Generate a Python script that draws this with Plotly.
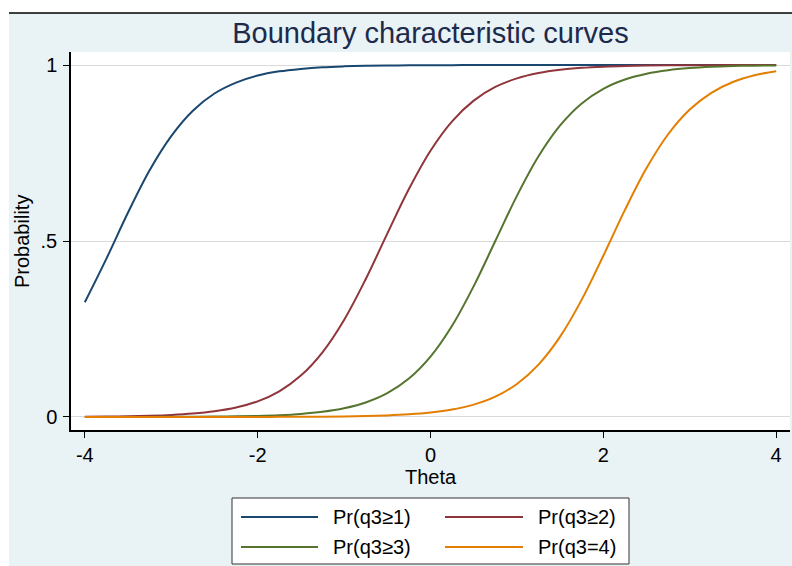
import plotly.graph_objects as go

# ---- data ----
theta = [-4.0, -3.75, -3.5, -3.25, -3.0, -2.75, -2.5, -2.25, -2.0, -1.75, -1.5, -1.25,
         -1.0, -0.75, -0.5, -0.25, 0.0, 0.25, 0.5, 0.75, 1.0, 1.25, 1.5, 1.75,
         2.0, 2.25, 2.5, 2.75, 3.0, 3.25, 3.5, 3.75, 4.0]

pr_ge1 = [0.326, 0.450, 0.581, 0.701, 0.798, 0.870, 0.919, 0.950, 0.970, 0.982, 0.989, 0.9936,
          0.9962, 0.9978, 0.9987, 0.9992, 0.9995, 0.9997, 0.9998, 0.9999, 0.9999, 1.0, 1.0, 1.0,
          1.0, 1.0, 1.0, 1.0, 1.0, 1.0, 1.0, 1.0, 1.0]

pr_ge2 = [0.0007, 0.0012, 0.0020, 0.0034, 0.0057, 0.0096, 0.0161, 0.0268, 0.0445, 0.0730, 0.1176, 0.1838,
          0.2757, 0.3915, 0.5210, 0.6477, 0.7566, 0.8401, 0.8988, 0.9376, 0.9621, 0.9772, 0.9864, 0.9919,
          0.9952, 0.9972, 0.9983, 0.9990, 0.9994, 0.9997, 0.9998, 0.9999, 0.9999]

pr_ge3 = [0.00005, 0.00008, 0.00013, 0.00023, 0.00038, 0.00064, 0.00108, 0.00183, 0.0031, 0.0052, 0.0088, 0.0148,
          0.0247, 0.0411, 0.0675, 0.1091, 0.1715, 0.2592, 0.3717, 0.5000, 0.6283, 0.7408, 0.8285, 0.8909,
          0.9325, 0.9589, 0.9753, 0.9852, 0.9912, 0.9948, 0.9969, 0.9982, 0.9989]

pr_eq4 = [0.000003, 0.000005, 0.000008, 0.000014, 0.000023, 0.000039, 0.000067, 0.000112, 0.00019, 0.00032, 0.00054, 0.00092,
          0.00155, 0.00262, 0.00442, 0.00745, 0.0125, 0.0210, 0.0350, 0.0577, 0.0938, 0.1489, 0.2283, 0.3334,
          0.4581, 0.5883, 0.7072, 0.8033, 0.8735, 0.9211, 0.9517, 0.9709, 0.9826]

series_names = ["Pr(q3≥1)", "Pr(q3≥2)", "Pr(q3≥3)", "Pr(q3=4)"]
series_values = [pr_ge1, pr_ge2, pr_ge3, pr_eq4]
series_colors = ["#1a476f", "#90353b", "#55752f", "#e37e00"]

x_ticks = [-4, -2, 0, 2, 4]
x_ticktext = ["-4", "-2", "0", "2", "4"]
y_ticks = [0, 0.5, 1]
y_ticktext = ["0", ".5", "1"]

title_text = "Boundary characteristic curves"
x_title = "Theta"
y_title = "Probability"

# ---- figure ----
W, H = 792, 566
ML, MR, MT, MB = 71, 2, 52, 136
PW, PH = W - ML - MR, H - MT - MB
FONT = "Liberation Sans, Arial, sans-serif"


def px(xp):
    return (xp - ML) / PW


def py(yp):
    return (H - MB - yp) / PH


fig = go.Figure()
for name, vals, col in zip(series_names, series_values, series_colors):
    fig.add_trace(go.Scatter(x=theta, y=vals, mode="lines", name=name,
                             line=dict(color=col, width=2, shape="spline", smoothing=1.0),
                             showlegend=False))

shapes = []
annotations = []
# white strips + black top rule (screenshot frame)
shapes.append(dict(type="rect", xref="paper", yref="paper", x0=px(0), x1=px(9), y0=py(H), y1=py(0),
                   fillcolor="white", line=dict(width=0), layer="above"))
shapes.append(dict(type="rect", xref="paper", yref="paper", x0=px(0), x1=px(W), y0=py(13), y1=py(0),
                   fillcolor="white", line=dict(width=0), layer="above"))
shapes.append(dict(type="line", xref="paper", yref="paper", x0=px(9), x1=px(W), y0=py(13), y1=py(13),
                   line=dict(color="black", width=1.5), layer="above"))

# manual legend (2 x 2)
lx0, lx1, ly0, ly1 = 232, 629, 498, 564
shapes.append(dict(type="rect", xref="paper", yref="paper", x0=px(lx0), x1=px(lx1), y0=py(ly1), y1=py(ly0),
                   fillcolor="white", line=dict(color="#333333", width=1), layer="above"))
pos = [(241, 318, 331, 517), (445, 523, 536, 517), (241, 318, 331, 547), (445, 523, 536, 547)]
for (a, b, t, yy), name, col in zip(pos, series_names, series_colors):
    shapes.append(dict(type="line", xref="paper", yref="paper", x0=px(a), x1=px(b), y0=py(yy), y1=py(yy),
                       line=dict(color=col, width=2), layer="above"))
    annotations.append(dict(text=name, xref="paper", yref="paper", x=px(t), y=py(yy),
                            xanchor="left", yanchor="middle", showarrow=False,
                            font=dict(family=FONT, size=20, color="black")))

# y-axis title
annotations.append(dict(text=y_title, xref="paper", yref="paper", x=px(22), y=py(241),
                        xanchor="center", yanchor="middle", textangle=-90, showarrow=False,
                        font=dict(family=FONT, size=20, color="black")))
# x-axis title
annotations.append(dict(text=x_title, xref="paper", yref="paper", x=px(431), y=py(477),
                        xanchor="center", yanchor="middle", showarrow=False,
                        font=dict(family=FONT, size=20, color="black")))

fig.update_layout(
    width=W, height=H,
    margin=dict(l=ML, r=MR, t=MT, b=MB, pad=0),
    paper_bgcolor="#e9f2f4",
    plot_bgcolor="white",
    title=dict(text=title_text, x=px(430.5), xref="paper", xanchor="center",
               y=1 - 33 / H, yref="container", yanchor="middle",
               font=dict(family=FONT, size=29, color="#1c2a4c")),
    shapes=shapes,
    annotations=annotations,
    showlegend=False,
    xaxis=dict(range=[-4.16, 4.16], tickvals=x_ticks, ticktext=x_ticktext, ticks="outside",
               ticklen=6, tickwidth=1.2,
               tickcolor="black", showline=True, linecolor="black", linewidth=1.5,
               showgrid=False, zeroline=False, tickfont=dict(family=FONT, size=20, color="black"),
               ticklabelstandoff=0),
    yaxis=dict(range=[-0.037, 1.037], tickvals=y_ticks, ticktext=y_ticktext, ticks="outside",
               ticklen=6, tickwidth=1.2, tickcolor="black", showline=True, linecolor="black",
               linewidth=1.5, showgrid=True, gridcolor="#dadada", gridwidth=1, zeroline=False,
               tickfont=dict(family=FONT, size=20, color="black"), ticklabelstandoff=2),
)

fig.write_html("out.html")
